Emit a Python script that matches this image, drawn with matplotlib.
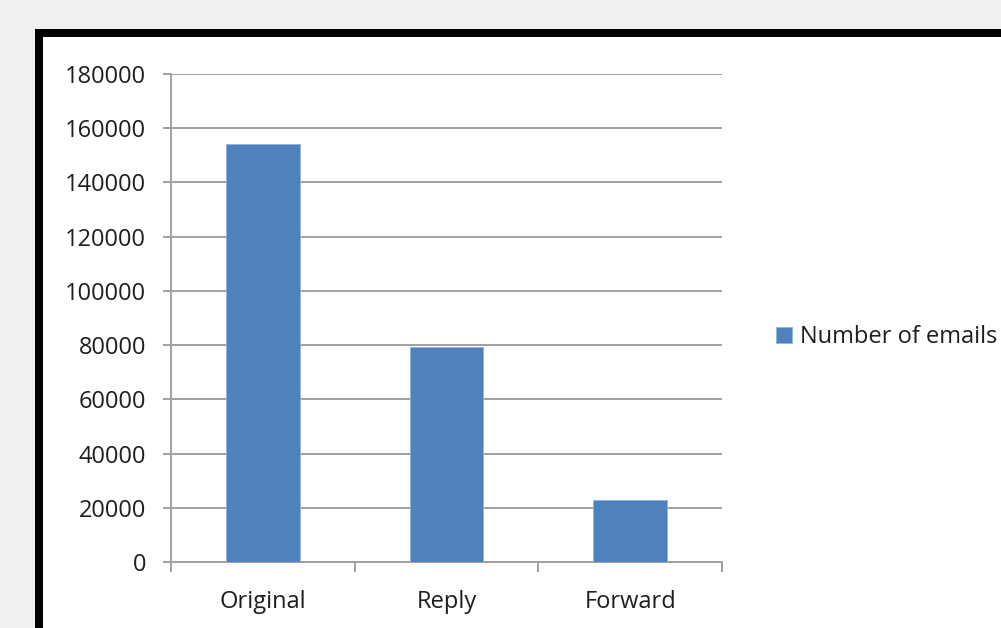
import matplotlib
matplotlib.use("Agg")
import matplotlib.pyplot as plt
from matplotlib.patches import Rectangle

categories = ["Original", "Reply", "Forward"]
emails = [154000, 79300, 22900]
series_name = "Number of emails"
y_ticks = [0, 20000, 40000, 60000, 80000, 100000, 120000, 140000, 160000, 180000]

W, H = 1001, 628
plt.rcParams["font.family"] = ["Open Sans", "DejaVu Sans"]
fig = plt.figure(figsize=(W / 100, H / 100), dpi=100)
fig.patch.set_facecolor("#f0f0f0")

# background layer: white chart area with thick black border running off the edges
bg = fig.add_axes([0, 0, 1, 1], zorder=-1)
bg.set_xlim(0, W)
bg.set_ylim(H, 0)
bg.axis("off")
bg.add_patch(Rectangle((39, 33), W + 50, H + 50, facecolor="white",
                       edgecolor="black", linewidth=8 * 0.72))

ax = fig.add_axes([171 / W, (H - 562) / H, (722 - 171) / W, (562 - 74) / H], zorder=1)
ax.set_facecolor("none")
x = list(range(len(categories)))
bars = ax.bar(x, emails, width=0.4, color="#4f81bd", edgecolor="#8db3e2",
              linewidth=0.6, label=series_name, zorder=3)

ax.set_xlim(-0.5, len(categories) - 0.5)
ax.set_ylim(0, 180000)
ax.set_yticks(y_ticks)
ax.set_yticklabels([str(v) for v in y_ticks])
ax.yaxis.grid(True, color="#a0a0a0", linewidth=1.4, zorder=0)
ax.set_axisbelow(True)

for s in ["top", "right"]:
    ax.spines[s].set_visible(False)
for s in ["left", "bottom"]:
    ax.spines[s].set_color("#a0a0a0")
    ax.spines[s].set_linewidth(1.4)

fs = 17
text_col = "#1e1e1e"
# category labels centred, tick marks on category boundaries
ax.set_xticks(x)
ax.set_xticklabels(categories)
ax.tick_params(axis="x", length=0, pad=20, labelsize=fs, labelcolor=text_col)
ax.set_xticks([-0.5, 0.5, 1.5, 2.5], minor=True)
ax.tick_params(axis="x", which="minor", length=7, width=1.4, color="#a0a0a0",
               direction="out")
ax.tick_params(axis="y", length=6, width=1.4, color="#a0a0a0", pad=12,
               labelsize=fs, labelcolor=text_col)

fig.legend(handles=[bars], labels=[series_name], loc="center left",
           bbox_to_anchor=(755 / W, (H - 337) / H), frameon=False,
           fontsize=fs, handlelength=0.65, handleheight=0.65, handletextpad=0.35,
           labelcolor=text_col)

fig.savefig("out.png", dpi=100, facecolor=fig.get_facecolor())
